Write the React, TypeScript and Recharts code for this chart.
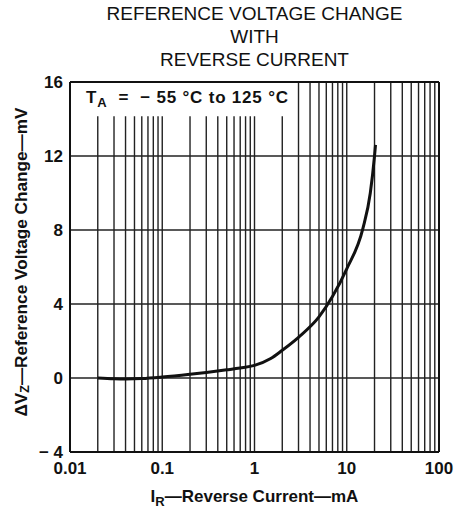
import React from "react";
import { LineChart, Line, XAxis, YAxis, ReferenceLine, Label } from "recharts";

// reverse current (mA) and reference voltage change (mV)
const currentMA = [0.02, 0.03, 0.04, 0.06, 0.1, 0.2, 0.3, 0.5, 0.7, 1, 1.5, 2, 3, 5, 7, 10, 15, 18, 20, 20.5];
const deltaVz = [0, -0.04, -0.05, -0.03, 0.05, 0.2, 0.3, 0.44, 0.54, 0.68, 1.05, 1.5, 2.2, 3.3, 4.4, 5.9, 8.1, 10.0, 12.0, 12.6];

const xTicks = [0.01, 0.1, 1, 10, 100];
const yTicks = [-4, 0, 4, 8, 12, 16];
const decades = [0.01, 0.1, 1, 10];
const multipliers = [2, 3, 4, 5, 6, 7, 8, 9];
const xGrid = [...decades.flatMap((d) => multipliers.map((m) => +(m * d).toPrecision(2))), 0.1, 1, 10];
const yGrid = [0, 4, 8, 12];
const titleLines = ["REFERENCE VOLTAGE CHANGE", "WITH", "REVERSE CURRENT"];

// the condition note sits in a clear patch at the top left of the grid
const noteRight = 2.45;
const noteBottom = 14.15;

const data = currentMA.map((i, k) => ({ i, v: deltaVz[k] }));

const FONT = "'Liberation Sans', Arial, Helvetica, sans-serif";
const INK = "#111";

const fmtY = (v: number) => (v < 0 ? `\u2212 ${Math.abs(v)}` : String(v));

const XTitle = (props: any) => {
  const { x, y, width } = props.viewBox;
  return (
    <text x={x + width / 2} y={y + 50} textAnchor="middle" fontFamily={FONT} fontWeight="bold" fontSize={17} fill={INK}>
      I<tspan fontSize={13} dy={4}>R</tspan>
      <tspan dy={-4}>{"\u2014Reverse Current\u2014mA"}</tspan>
    </text>
  );
};

const YTitle = () => {
  const cx = 21;
  const cy = 262;
  return (
    <text
      x={cx}
      y={cy}
      transform={`rotate(-90, ${cx}, ${cy})`}
      textAnchor="middle"
      dominantBaseline="central"
      fontFamily={FONT}
      fontWeight="bold"
      fontSize={17.2}
      fill={INK}
    >
      {"\u0394V"}
      <tspan fontSize={12.5} dy={4}>Z</tspan>
      <tspan dy={-4}>{"\u2014Reference Voltage Change\u2014mV"}</tspan>
    </text>
  );
};

const Condition = (props: any) => {
  const { x, y } = props.viewBox;
  return (
    <text
      x={x + 16}
      y={y + 21}
      fontFamily={FONT}
      fontWeight="bold"
      fontSize={17}
      letterSpacing={0.8}
      fill={INK}
      style={{ whiteSpace: "pre" }}
    >
      T<tspan fontSize={13} dy={4}>A</tspan>
      <tspan dy={-4}>{"  =  \u2212 55 \u00b0C to 125 \u00b0C"}</tspan>
    </text>
  );
};

export default function App() {
  return (
    <div style={{ position: "absolute", left: 0, top: 0, width: 467, height: 510, background: "#fff" }}>
      <div
        style={{
          position: "absolute",
          left: 42,
          top: 2,
          width: 425,
          textAlign: "center",
          fontFamily: FONT,
          fontSize: 19,
          lineHeight: "23px",
          color: INK,
          zIndex: 1,
        }}
      >
        {titleLines.map((t) => (
          <div key={t}>{t}</div>
        ))}
      </div>
      <LineChart width={467} height={510} data={data} margin={{ top: 82, right: 28, bottom: 0, left: 0 }}>
        <XAxis
          dataKey="i"
          type="number"
          scale="log"
          domain={[0.01, 100]}
          ticks={xTicks}
          allowDataOverflow
          axisLine={false}
          tickLine={false}
          tickSize={0}
          tickMargin={10}
          height={58}
          tick={{ fontFamily: FONT, fontWeight: "bold", fontSize: 17, fill: INK }}
        >
          <Label content={<XTitle />} />
        </XAxis>
        <YAxis
          type="number"
          domain={[-4, 16]}
          ticks={yTicks}
          allowDataOverflow
          axisLine={false}
          tickLine={false}
          tickSize={0}
          tickMargin={7}
          width={70}
          tickFormatter={fmtY}
          tick={{ fontFamily: FONT, fontWeight: "bold", fontSize: 17, fill: INK }}
        >
          <Label content={<YTitle />} />
        </YAxis>
        {xGrid.map((g) =>
          g < noteRight ? (
            <ReferenceLine
              key={`x${g}`}
              segment={[
                { x: g, y: -4 },
                { x: g, y: noteBottom },
              ]}
              stroke="#222"
              strokeWidth={1.4}
            />
          ) : (
            <ReferenceLine key={`x${g}`} x={g} stroke="#222" strokeWidth={1.4} />
          )
        )}
        {yGrid.map((g) => (
          <ReferenceLine key={`y${g}`} y={g} stroke="#222" strokeWidth={1.4} />
        ))}
        <ReferenceLine x={0.01} stroke={INK} strokeWidth={2} />
        <ReferenceLine x={100} stroke={INK} strokeWidth={2} />
        <ReferenceLine y={-4} stroke={INK} strokeWidth={2} />
        <ReferenceLine y={16} stroke={INK} strokeWidth={2}>
          <Label content={<Condition />} />
        </ReferenceLine>
        <Line
          type="monotone"
          dataKey="v"
          stroke={INK}
          strokeWidth={3}
          dot={false}
          isAnimationActive={false}
        />
      </LineChart>
    </div>
  );
}
